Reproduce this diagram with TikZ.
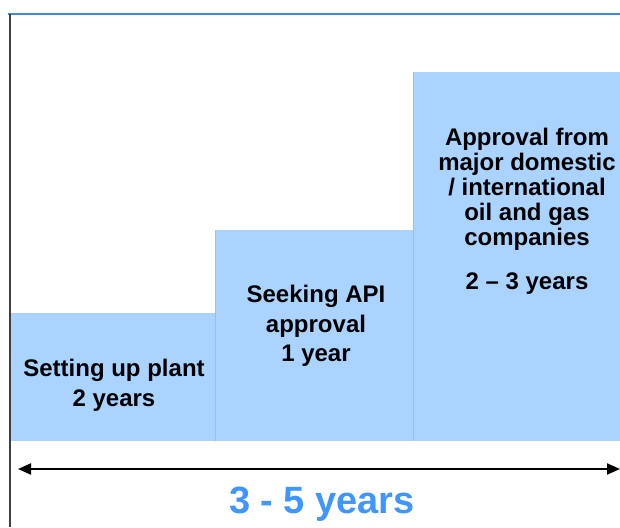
\documentclass[tikz,border=0pt]{standalone}
\usepackage{fontspec}
\setmainfont{Liberation Sans}
\usepackage{xcolor}
\usetikzlibrary{arrows.meta}
\definecolor{stagefill}{RGB}{170,212,255}
\definecolor{stageedge}{RGB}{140,195,255}
\definecolor{frameblue}{RGB}{60,140,230}
\definecolor{spanblue}{RGB}{64,150,255}
\tikzset{stage/.style={fill=stagefill},
stagetext/.style={align=center,anchor=base,inner sep=0pt,font=\bfseries\fontsize{24}{29.5}\selectfont}}
\begin{document}
\begin{tikzpicture}[x=1pt,y=1pt,>={Triangle[length=13pt,width=11pt]}]
\useasboundingbox(0,0)rectangle(620,527);
\draw[line width=2pt,frameblue](8,513)--(620,513);
\draw[line width=2pt,black!75](10,513)--(10,0);
% the three stages, one step higher each
\fill[stage](11,86)rectangle(215,214);
\fill[stage](215,86)rectangle(413,297);
\fill[stage](413,86)rectangle(620,455);
\draw[stageedge](215,86)--(215,297)(413,86)--(413,455);
% base of a text node = baseline of its last line
\node[stagetext](plant)at(114,121){Setting up plant\\2 years};
\node[stagetext](api)at(316,165){Seeking API\\approval\\1 year};
\node[stagetext,font=\bfseries\fontsize{24}{25}\selectfont](majors)at(527,237)
{Approval from\\major domestic\\/ international\\oil and gas\\companies\\[19pt]2 -- 3 years};
% overall span
\coordinate(spanL)at(18,58);
\coordinate(spanR)at(620,58);
\draw[<->,line width=2pt](spanL)--(spanR);
\node[anchor=base,inner sep=0pt,text=spanblue,font=\bfseries\fontsize{38}{40}\selectfont](span)at(322,14){3 - 5 years};
\end{tikzpicture}
\end{document}
